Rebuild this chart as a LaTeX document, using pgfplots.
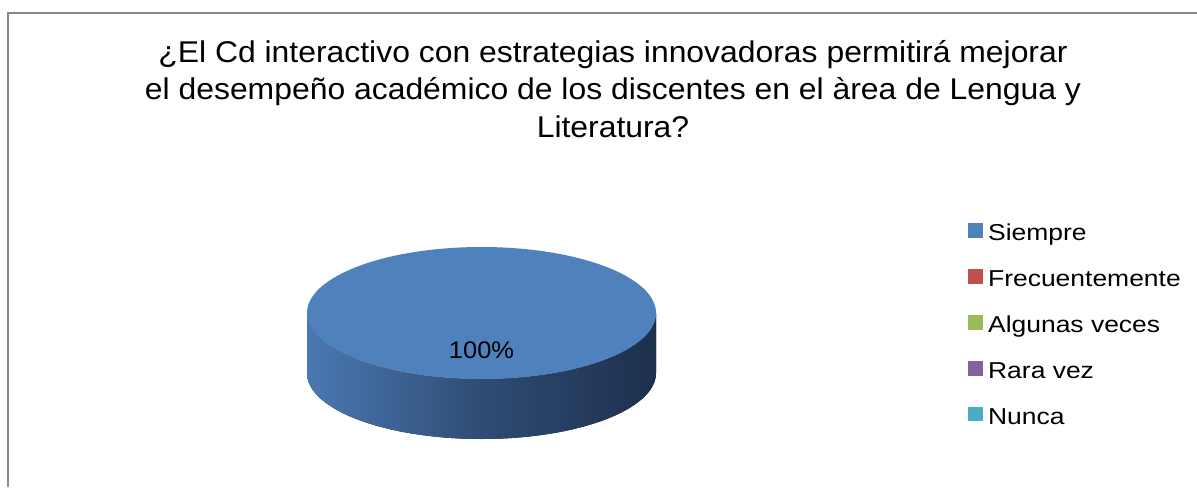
\documentclass[border=0pt]{standalone}
\usepackage{pgfplots}
\pgfplotsset{compat=1.18}
\usepackage{pgfplotstable}
\usepackage{fontspec}
\setmainfont{Liberation Sans}
\definecolor{cSiempre}{HTML}{4F81BD}
\definecolor{cFrec}{HTML}{C0504D}
\definecolor{cAlg}{HTML}{9BBB59}
\definecolor{cRara}{HTML}{8064A2}
\definecolor{cNunca}{HTML}{4BACC6}
\definecolor{sideL}{HTML}{4A78B2}
\definecolor{sideM}{HTML}{2F4C74}
\definecolor{sideR}{HTML}{1D304D}
\definecolor{frame}{HTML}{898989}
\pgfplotstableread{
cat value
Siempre 100
Frecuentemente 0
Algunas 0
Rara 0
Nunca 0
}\piedata
\begin{document}
\begin{tikzpicture}
\useasboundingbox (0,0) rectangle (897.75pt,365.25pt);
\pgfplotstablegetelem{0}{value}\of\piedata
\let\vSiempre\pgfplotsretval
\begin{axis}[
  at={(0,0)}, anchor=south west,
  width=897.75pt, height=365.25pt, scale only axis,
  xmin=0, xmax=1197, ymin=0, ymax=487,
  hide axis, clip=false,
  legend style={at={(axis cs:968,264)}, anchor=north west, draw=none, fill=none,
    inner sep=0pt, row sep=0pt,
    nodes={inner sep=0pt, text height=12.5pt, text depth=21.25pt, font=\fontsize{17.25}{19}\selectfont}},
  legend cell align=left,
]
% frame
\draw[frame, line width=1.1pt] (axis cs:8,0) -- (axis cs:8,474) -- (axis cs:1197,474);
% title
\node[anchor=base, font=\fontsize{22.5}{25}\selectfont] at (axis cs:613,425) {\scalebox{1.063}[1]{¿El Cd interactivo con estrategias innovadoras permitirá mejorar}};
\node[anchor=base, font=\fontsize{22.5}{25}\selectfont] at (axis cs:613,388) {\scalebox{1.063}[1]{el desempeño académico de los discentes en el àrea de Lengua y}};
\node[anchor=base, font=\fontsize{22.5}{25}\selectfont] at (axis cs:613,350) {\scalebox{1.063}[1]{Literatura?}};
% pie side (3D)
\fill[left color=sideL, right color=sideR, middle color=sideM]
  (axis cs:307,174) -- (axis cs:307,114)
  arc[start angle=180, end angle=360, x radius=130.875pt, y radius=49.5pt]
  -- (axis cs:656,174)
  arc[start angle=0, end angle=-180, x radius=130.875pt, y radius=49.5pt] -- cycle;
% pie top (Siempre = 100%)
\fill[cSiempre] (axis cs:481.5,174) ellipse [x radius=130.875pt, y radius=49.5pt];
\node[font=\fontsize{18}{20}\selectfont] at (axis cs:481.5,137) {\scalebox{1.06}[1]{\pgfmathprintnumber[assume math mode=true]{\vSiempre}\%}};
% legend
\addlegendimage{legend image code/.code={\fill[cSiempre] (0pt,7.4pt) rectangle (10pt,17.4pt); \path (14.5pt,7.4pt);}}
\addlegendentry{\scalebox{1.15}[1]{Siempre}}
\addlegendimage{legend image code/.code={\fill[cFrec] (0pt,7.4pt) rectangle (10pt,17.4pt); \path (14.5pt,7.4pt);}}
\addlegendentry{\scalebox{1.15}[1]{Frecuentemente}}
\addlegendimage{legend image code/.code={\fill[cAlg] (0pt,7.4pt) rectangle (10pt,17.4pt); \path (14.5pt,7.4pt);}}
\addlegendentry{\scalebox{1.15}[1]{Algunas veces}}
\addlegendimage{legend image code/.code={\fill[cRara] (0pt,7.4pt) rectangle (10pt,17.4pt); \path (14.5pt,7.4pt);}}
\addlegendentry{\scalebox{1.15}[1]{Rara vez}}
\addlegendimage{legend image code/.code={\fill[cNunca] (0pt,7.4pt) rectangle (10pt,17.4pt); \path (14.5pt,7.4pt);}}
\addlegendentry{\scalebox{1.15}[1]{Nunca}}
\end{axis}
\end{tikzpicture}
\end{document}
